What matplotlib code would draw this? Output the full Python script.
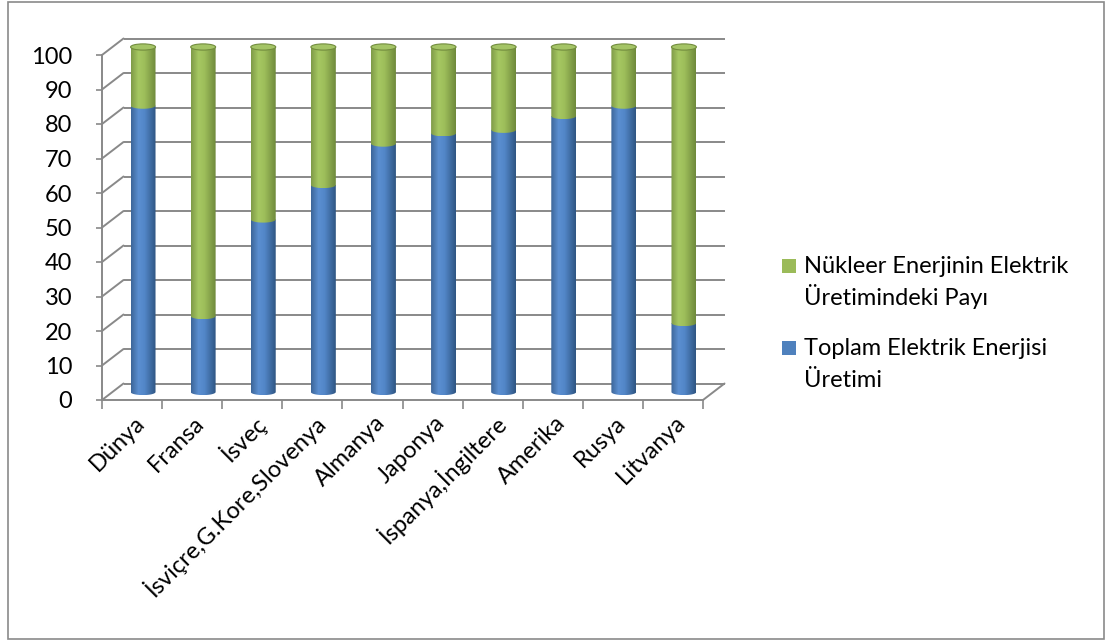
import numpy as np
import matplotlib
matplotlib.use("Agg")
import matplotlib.pyplot as plt
from matplotlib.patches import Ellipse, Rectangle, Polygon, ConnectionPatch
from matplotlib.transforms import ScaledTranslation
from matplotlib.colors import LinearSegmentedColormap

plt.rcParams['font.family'] = ['Lato', 'DejaVu Sans']

# data
categories = ["Dünya", "Fransa", "İsveç", "İsviçre,G.Kore,Slovenya", "Almanya",
              "Japonya", "İspanya,İngiltere", "Amerika", "Rusya", "Litvanya"]
toplam = [83, 22, 50, 60, 72, 75, 76, 80, 83, 20]
nukleer = [17, 78, 50, 40, 28, 25, 24, 20, 17, 80]
y_ticks = list(range(0, 101, 10))
legend_labels = ["Nükleer Enerjinin Elektrik\nÜretimindeki Payı",
                 "Toplam Elektrik Enerjisi\nÜretimi"]

# styles
grid_c = '#898989'
blue_cmap = LinearSegmentedColormap.from_list(
    'blue', [(0, '#3d6699'), (0.3, '#5b8fd1'), (0.55, '#5286c8'), (1, '#2f5683')])
green_cmap = LinearSegmentedColormap.from_list(
    'green', [(0, '#7f9b48'), (0.3, '#a6c862'), (0.55, '#9dbd5a'), (1, '#6f8a3c')])
top_face = '#a4c466'
top_edge = '#728c3e'
BW = 0.415   # cylinder width (x units)
EH = 1.8     # ellipse height (y units)
FS = 17

W, H = 1105, 641
fig = plt.figure(figsize=(W / 100, H / 100), dpi=100)
ax = fig.add_axes([102 / W, (H - 400) / H, 601 / W, 345 / H])
ax.patch.set_visible(False)

back = ax.transData + ScaledTranslation(21.5 / 100, 16.5 / 100, fig.dpi_scale_trans)
mid = ax.transData + ScaledTranslation(11 / 100, 8 / 100, fig.dpi_scale_trans)

n = len(categories)
xs = np.arange(n) + 0.5

# back wall and left wall gridlines
for v in y_ticks:
    ax.plot([0, n], [v, v], transform=back, color=grid_c, lw=1.4,
            clip_on=False, zorder=1, solid_capstyle='butt')
    ax.add_artist(ConnectionPatch((0, v), (0, v), coordsA=ax.transData,
                                  coordsB=back, color=grid_c, lw=1.4, zorder=1))
ax.add_artist(ConnectionPatch((n, 0), (n, 0), coordsA=ax.transData,
                              coordsB=back, color=grid_c, lw=1.4, zorder=1))


def cylinder(xc, y0, y1, cmap, z):
    t = np.linspace(np.pi, 2 * np.pi, 40)
    verts = list(zip(xc + BW / 2 * np.cos(t), y0 + EH / 2 * np.sin(t)))
    verts += [(xc + BW / 2, y1), (xc - BW / 2, y1)]
    clip = Polygon(verts, closed=True, transform=mid, fc='none', ec='none')
    grad = np.linspace(0, 1, 64).reshape(1, -1)
    im = ax.imshow(grad, cmap=cmap, extent=(xc - BW / 2, xc + BW / 2, y0 - EH / 2, y1),
                   aspect='auto', transform=mid, zorder=z, interpolation='bilinear')
    im.set_clip_box(fig.bbox)
    im.set_clip_path(clip)


for x, t_val, n_val in zip(xs, toplam, nukleer):
    cylinder(x, 0, t_val, blue_cmap, 3)
    cylinder(x, t_val, t_val + n_val, green_cmap, 4)
    ax.add_patch(Ellipse((x, t_val + n_val), BW, EH, transform=mid, fc=top_face,
                         ec=top_edge, lw=0.8, zorder=5, clip_on=False))

ax.set_xlim(0, n)
ax.set_ylim(0, 100)

for s in ['top', 'right']:
    ax.spines[s].set_visible(False)
for s in ['left', 'bottom']:
    ax.spines[s].set_color(grid_c)
    ax.spines[s].set_linewidth(1.4)

ax.set_yticks(y_ticks)
ax.tick_params(axis='y', length=4.5, width=1.2, color=grid_c, labelsize=FS, pad=17)
ax.set_xticks(range(n + 1))
ax.set_xticklabels([])
ax.set_xticks(xs, minor=True)
ax.set_xticklabels(categories, minor=True, rotation=45, ha='right', va='center',
                   rotation_mode='anchor', fontsize=FS)
ax.tick_params(axis='x', which='major', length=6.5, width=1.2, color=grid_c)
ax.tick_params(axis='x', which='minor', length=0, pad=14)
for lab in ax.get_xticklabels(minor=True):
    lab.set_transform(lab.get_transform() + ScaledTranslation(9 / 100, 0, fig.dpi_scale_trans))

# legend
leg_colors = ['#9bbb59', '#4f81bd']
leg_base = [273, 355]
for lbl, col, yb in zip(legend_labels, leg_colors, leg_base):
    fig.add_artist(Rectangle((782 / W, (H - yb) / H), 14 / W, 14 / H,
                             transform=fig.transFigure, fc=col, ec='none'))
    for k, line in enumerate(lbl.split('\n')):
        fig.text(804 / W, (H - yb - 32 * k) / H, line, fontsize=FS, va='baseline', ha='left')

# outer frame
fig.add_artist(Rectangle((8 / W, 2 / H), 1096 / W, 637 / H, transform=fig.transFigure,
                         fill=False, ec='#8a8a8a', lw=1.2))

fig.savefig('out.png', dpi=100)
